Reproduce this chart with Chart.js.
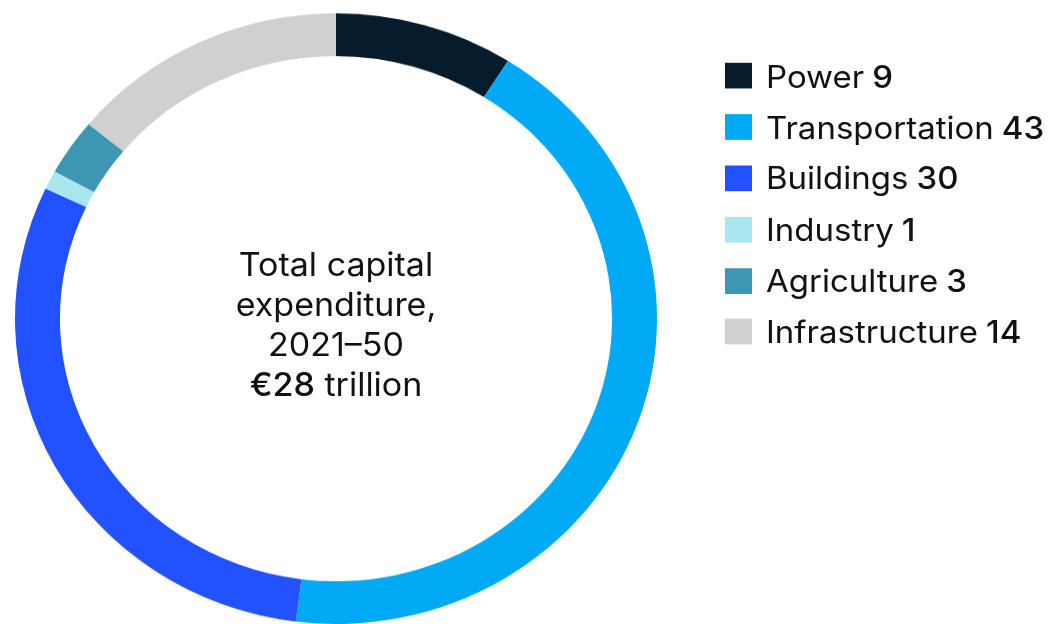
<!DOCTYPE html>
<html>
<head>
<meta charset="utf-8">
<script src="https://cdn.jsdelivr.net/npm/chart.js@4.4.0/dist/chart.umd.min.js"></script>
<style>
  body { margin: 0; background: #fff; }
  #page { width: 1058px; height: 624px; overflow: hidden; position: relative; }
  /* the source picture is squeezed vertically, so draw at full size and squeeze it */
  #wrap { position: absolute; left: 0; top: 0; width: 1058px; height: 656px;
          transform: scaleY(0.9512); transform-origin: 0 0;
          font-family: Inter, "Liberation Sans", sans-serif; color: #111; }
  #chart { position: absolute; left: 0; top: 0; }
  #center { position: absolute; left: 186px; width: 300px; top: 257px;
            text-align: center; font-size: 34px; line-height: 42px; }
  #center b { font-weight: 500; }
  #legend { position: absolute; left: 725px; top: 53px; }
  .row { height: 53.8px; display: flex; align-items: center; font-size: 33px; }
  .box { width: 27px; height: 27px; margin-right: 14px; }
  .row b { font-weight: 500; margin-left: 8px; }
</style>
</head>
<body>
<div id="page">
  <div id="wrap">
    <canvas id="chart" width="1058" height="656" style="width:1058px;height:656px"></canvas>
    <div id="center"></div>
    <div id="legend"></div>
  </div>
</div>
<script>
// sectors and their share of spending, %
var labels = ['Power', 'Transportation', 'Buildings', 'Industry', 'Agriculture', 'Infrastructure'];
var values = [9, 43, 30, 1, 3, 14];
var colors = ['#061c2c', '#00a9f4', '#2251ff', '#aae6f0', '#3c96b4', '#d0d0d0'];

// text in the hole
var centerLines = ['Total capital', 'expenditure,', '2021\u201350'];
var centerTotal = '\u20ac28';
var centerUnit = 'trillion';

const data = {
  labels: labels,
  datasets: [{
    data: values,
    backgroundColor: colors,
    borderWidth: 0
  }]
};

const config = {
  type: 'doughnut',
  data: data,
  options: {
    responsive: false,
    animation: false,
    devicePixelRatio: 1,
    cutout: '86%',
    layout: { padding: { left: 15, top: 14, right: 401, bottom: 0 } },
    plugins: {
      legend: { display: false },
      tooltip: { enabled: false }
    }
  }
};

var chart = new Chart(document.getElementById('chart'), config);

// center label
var c = document.getElementById('center');
c.innerHTML = centerLines.join('<br>') + '<br><b>' + centerTotal + '</b> ' + centerUnit;

// legend built from the same arrays
var lg = document.getElementById('legend');
for (var i = 0; i < labels.length; i++) {
  var row = document.createElement('div');
  row.className = 'row';
  row.innerHTML = '<span class="box" style="background:' + colors[i] + '"></span>' +
    labels[i] + '<b>' + values[i] + '</b>';
  lg.appendChild(row);
}
</script>
</body>
</html>
